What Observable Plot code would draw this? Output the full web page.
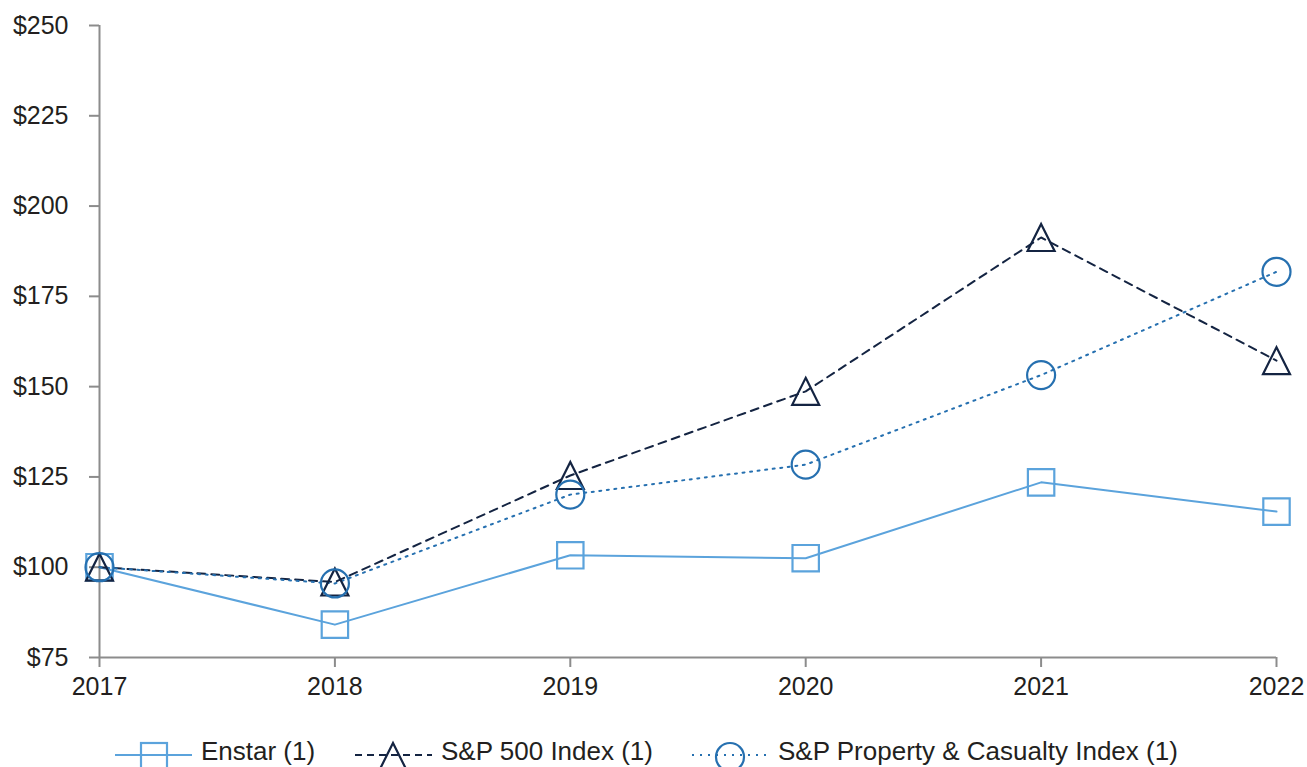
<!DOCTYPE html>
<html>
<head>
<meta charset="utf-8">
<script src="https://cdn.jsdelivr.net/npm/d3@7"></script>
<script src="https://cdn.jsdelivr.net/npm/@observablehq/plot@0.6"></script>
<style>
  html, body { margin: 0; padding: 0; background: #fff; overflow: hidden; }
  #wrap { position: relative; width: 1307px; height: 767px; font-family: "Liberation Sans", Arial, sans-serif; }
  #legend { position: absolute; left: 0; top: 740px; width: 1307px; height: 26px; font-size: 26px; color: #231f20; white-space: nowrap; }
  .item { position: absolute; top: 0; display: flex; align-items: flex-start; }
  .item svg { display: block; overflow: visible; }
  .item span { margin-left: 9px; line-height: 26px; margin-top: -2px; display: block; }
</style>
</head>
<body>
<div id="wrap"><div id="chart"></div><div id="legend"></div></div>
<script>
const years = [2017, 2018, 2019, 2020, 2021, 2022];
const enstar = [100, 84.1, 103.3, 102.5, 123.5, 115.4];
const sp500 = [100, 95.9, 125.4, 148.7, 191.3, 157.2];
const spPC = [100, 95.5, 120.1, 128.4, 153.2, 181.8];
const seriesNames = ["Enstar (1)", "S&P 500 Index (1)", "S&P Property & Casualty Index (1)"];
const yTicks = [75, 100, 125, 150, 175, 200, 225, 250];

const colors = ["#5ba3dc", "#142442", "#2670b0"];
const dashes = [null, "8,6", "2,5.6"];

const squareSym = { draw(ctx, size) { const h = Math.sqrt(size / Math.PI); ctx.moveTo(-h, -h); ctx.lineTo(h, -h); ctx.lineTo(h, h); ctx.lineTo(-h, h); ctx.closePath(); } };
const triSym = { draw(ctx, size) { const h = Math.sqrt(size / Math.PI); ctx.moveTo(0, -h); ctx.lineTo(h, h); ctx.lineTo(-h, h); ctx.closePath(); } };
const symbols = [squareSym, triSym, "circle"];
const radii = [13.2, 13.5, 14];

const seriesValues = [enstar, sp500, spPC];
const lineMarks = [];
const dotMarks = [];
seriesValues.forEach((vals, i) => {
  const data = years.map((y, j) => ({ year: y, value: vals[j] }));
  lineMarks.push(Plot.line(data, { x: "year", y: "value", stroke: colors[i], strokeWidth: 2, strokeDasharray: dashes[i] || undefined }));
  dotMarks.push(Plot.dot(data, { x: "year", y: "value", stroke: colors[i], strokeWidth: 2.2, fill: "none", symbol: symbols[i], r: radii[i] }));
});

const chart = Plot.plot({
  width: 1307,
  height: 720,
  marginLeft: 99,
  marginRight: 31,
  marginTop: 25,
  marginBottom: 63,
  style: { fontFamily: "'Liberation Sans', Arial, sans-serif", fontSize: "25px", color: "#231f20", background: "#fff" },
  x: { domain: [2017, 2022] },
  y: { domain: [75, 250] },
  marks: [
    Plot.axisY({ ticks: yTicks, tickFormat: d => "$" + d, tickSize: 10, tickPadding: 21, fontSize: 25, stroke: "#8c8c8c", strokeWidth: 2, fill: "#231f20", label: null }),
    Plot.axisX({ ticks: years, tickFormat: d => String(d), tickSize: 10, tickPadding: 10, fontSize: 25, stroke: "#8c8c8c", strokeWidth: 2, fill: "#231f20", label: null }),
    Plot.ruleX([2017], { stroke: "#8c8c8c", strokeWidth: 2 }),
    Plot.ruleY([75], { stroke: "#8c8c8c", strokeWidth: 2 }),
    ...lineMarks,
    ...dotMarks
  ]
});
document.getElementById("chart").appendChild(chart);

// Legend
const legend = document.getElementById("legend");
const legendLeft = [115, 355, 692];
const symPaths = [
  `<rect x="26" y="3" width="26" height="26" fill="none" stroke="${colors[0]}" stroke-width="2.2"/>`,
  `<path d="M38,3 L51.5,30 L24.5,30 Z" fill="none" stroke="${colors[1]}" stroke-width="2.2"/>`,
  `<circle cx="38" cy="17" r="14" fill="none" stroke="${colors[2]}" stroke-width="2.2"/>`
];
seriesNames.forEach((name, i) => {
  const item = document.createElement("div");
  item.className = "item";
  item.style.left = legendLeft[i] + "px";
  item.innerHTML = `<svg width="77" height="26"><line x1="0" y1="15" x2="77" y2="15" stroke="${colors[i]}" stroke-width="2" ${dashes[i] ? `stroke-dasharray="${i === 1 ? "7,5" : "2,6"}"` : ""}/>${symPaths[i]}</svg><span>${name}</span>`;
  legend.appendChild(item);
});
</script>
</body>
</html>
